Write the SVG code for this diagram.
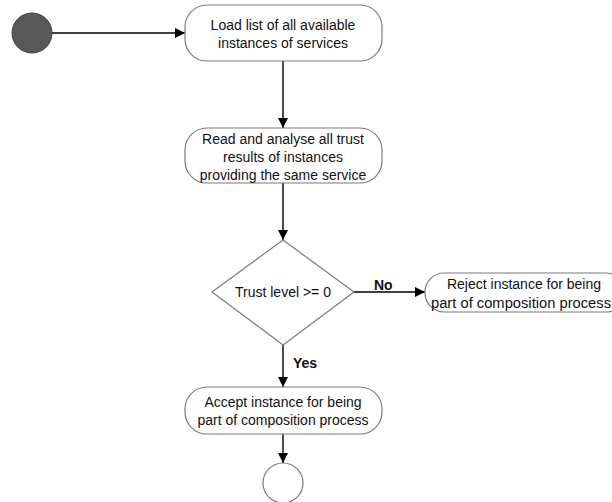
<svg xmlns="http://www.w3.org/2000/svg" width="612" height="502" viewBox="0 0 612 502">
<defs>
<style>
.node{fill:#ffffff;stroke:#7a7a7a;stroke-width:1.2}
.t{font-family:"Liberation Sans",Arial,sans-serif;font-size:14px;fill:#111;text-anchor:middle}
.lbl{font-family:"Liberation Sans",Arial,sans-serif;font-size:14px;font-weight:bold;fill:#111}
.c{stroke:#000;stroke-width:1.4;fill:none;marker-end:url(#ah)}
</style>
<marker id="ah" viewBox="0 0 10 10" refX="10" refY="5" markerWidth="10" markerHeight="10" markerUnits="userSpaceOnUse" orient="auto">
<path d="M0,0 L10,5 L0,10 z" fill="#000"/>
</marker>
</defs>
<rect width="612" height="502" fill="#ffffff"/>
<g id="connectors">
<line class="c" x1="52" y1="33" x2="185" y2="33"/>
<line class="c" x1="283" y1="61" x2="283" y2="128"/>
<line class="c" x1="283" y1="183" x2="283" y2="240"/>
<line class="c" x1="354" y1="292" x2="425" y2="292"/>
<line class="c" x1="283" y1="345" x2="283" y2="387"/>
<line class="c" x1="283" y1="434" x2="283" y2="463"/>
<text class="lbl" x="374" y="290">No</text>
<text class="lbl" x="293" y="368">Yes</text>
</g>
<g id="start">
<circle cx="32" cy="33" r="20" fill="#595959" stroke="#404040" stroke-width="1"/>
</g>
<g id="load">
<rect class="node" x="185" y="5" width="197" height="56" rx="22"/>
<text class="t" x="283" y="30">Load list of all available</text>
<text class="t" x="283" y="48">instances of services</text>
</g>
<g id="read">
<rect class="node" x="185" y="128" width="197" height="55" rx="22"/>
<text class="t" x="283" y="144">Read and analyse all trust</text>
<text class="t" x="283" y="162">results of instances</text>
<text class="t" x="283" y="180">providing the same service</text>
</g>
<g id="decision">
<polygon class="node" points="283,240 354,292 283,345 212,292"/>
<text class="t" x="283" y="297">Trust level &gt;= 0</text>
</g>
<g id="reject">
<rect class="node" x="425" y="273" width="200" height="39" rx="19"/>
<text class="t" x="524" y="289">Reject instance for being</text>
<text class="t" x="521" y="308" textLength="180" lengthAdjust="spacingAndGlyphs">part of composition process</text>
</g>
<g id="accept">
<rect class="node" x="185" y="387" width="197" height="47" rx="22"/>
<text class="t" x="283" y="407">Accept instance for being</text>
<text class="t" x="283" y="425">part of composition process</text>
</g>
<g id="end">
<circle class="node" cx="283" cy="483" r="20"/>
</g>
</svg>
